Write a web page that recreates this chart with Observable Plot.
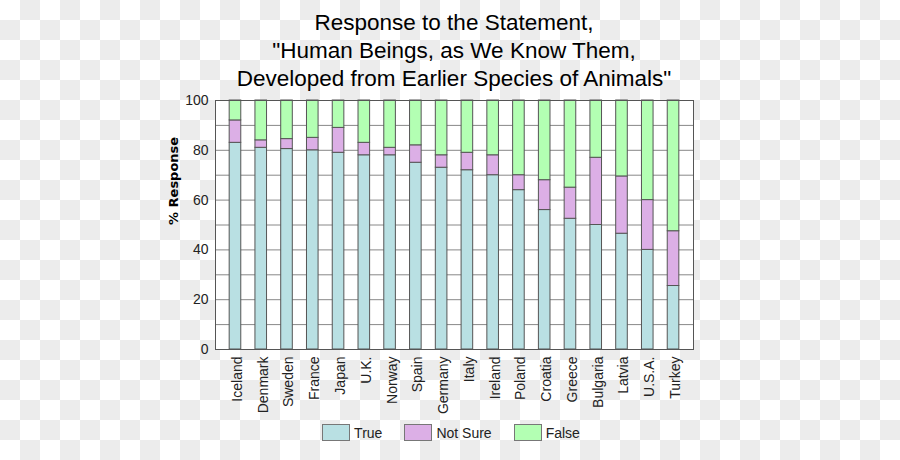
<!DOCTYPE html>
<html>
<head>
<meta charset="utf-8">
<script src="https://cdn.jsdelivr.net/npm/d3@7"></script>
<script src="https://cdn.jsdelivr.net/npm/@observablehq/plot@0.6"></script>
<style>
  html, body { margin: 0; padding: 0; }
  body {
    width: 900px; height: 460px; overflow: hidden;
    background: repeating-conic-gradient(#ececec 0 25%, #ffffff 0 50%) 0 0 / 40px 40px;
    font-family: "Liberation Sans", Arial, sans-serif;
  }
  #wrap { position: relative; width: 900px; height: 460px; }
  #wrap svg { position: absolute; left: 0; top: 0; }
  #title {
    position: absolute; left: 215px; width: 478px; top: 9px;
    text-align: center; font-size: 22.5px; line-height: 28px; color: #000;
    white-space: nowrap;
  }
  #legend {
    position: absolute; left: 0; width: 902px; top: 424px;
    display: flex; justify-content: center; font-size: 14px; color: #222;
  }
  .item { display: flex; align-items: center; margin: 0 11px; }
  .sw { width: 26px; height: 15px; border: 1px solid #777; margin-right: 4px; }
</style>
</head>
<body>
<div id="wrap">
  <div id="title"></div>
  <div id="legend"></div>
</div>
<script>
const titleLines = [
  "Response to the Statement,",
  "\"Human Beings, as We Know Them,",
  "Developed from Earlier Species of Animals\""
];
const countries = ["Iceland","Denmark","Sweden","France","Japan","U.K.","Norway","Spain","Germany","Italy","Ireland","Poland","Croatia","Greece","Bulgaria","Latvia","U.S.A.","Turkey"];
const seriesNames = ["True","Not Sure","False"];
const trueValues    = [83, 81, 80.5, 80, 79, 78, 78, 75, 73, 72, 70, 64, 56, 52.5, 50, 46.5, 40, 25.5];
const notSureValues = [9, 3, 4, 5, 10, 5, 3, 7, 5, 7, 8, 6, 12, 12.5, 27, 23, 20, 22];
const falseValues   = [8, 16, 15.5, 15, 11, 17, 19, 18, 22, 21, 22, 30, 32, 35, 23, 30.5, 40, 52.5];
const seriesColors = ["#b9e0e3", "#dcafe6", "#b3ffb3"];
const yTickValues = [0, 20, 40, 60, 80, 100];
const yGridValues = [0, 10, 20, 30, 40, 50, 60, 70, 80, 90, 100];
const yLabel = "% Response";

const seriesValues = [trueValues, notSureValues, falseValues];
const data = [];
countries.forEach((c, i) => {
  seriesNames.forEach((s, j) => data.push({country: c, series: s, value: seriesValues[j][i]}));
});

document.getElementById("title").innerHTML = titleLines.map(t => `<div>${t.replace(/&/g,"&amp;").replace(/</g,"&lt;")}</div>`).join("");
document.getElementById("legend").innerHTML = seriesNames.map((s, j) =>
  `<div class="item"><div class="sw" style="background:${seriesColors[j]}"></div><span>${s}</span></div>`).join("");

const chart = Plot.plot({
  width: 900,
  height: 460,
  marginLeft: 215,
  marginRight: 207,
  marginTop: 100,
  marginBottom: 111,
  style: {background: "transparent", fontFamily: "'Liberation Sans', Arial, sans-serif", fontSize: "14px", color: "#222"},
  x: {domain: countries, padding: 0.55, round: false, label: null},
  y: {domain: [0, 100], label: null},
  color: {domain: seriesNames, range: seriesColors},
  marks: [
    Plot.frame({fill: "white", stroke: null}),
    Plot.gridY(yGridValues, {stroke: "#888", strokeOpacity: 1}),
    Plot.barY(data, {x: "country", y: "value", fill: "series", stroke: "#555", strokeWidth: 1, order: seriesNames}),
    Plot.frame({stroke: "#555"}),
    Plot.axisY(yTickValues, {tickSize: 0, tickPadding: 7, label: null, fontSize: 14}),
    Plot.axisX({tickSize: 0, tickRotate: -90, tickPadding: 7, dx: 2, label: null, fontSize: 14}),
    Plot.text([yLabel], {frameAnchor: "left", rotate: -90, dx: -42, text: d => d, fontWeight: "bold", fontFamily: "'DejaVu Sans'", fontSize: 13, fill: "#000"})
  ]
});
document.getElementById("wrap").prepend(chart);
</script>
</body>
</html>
